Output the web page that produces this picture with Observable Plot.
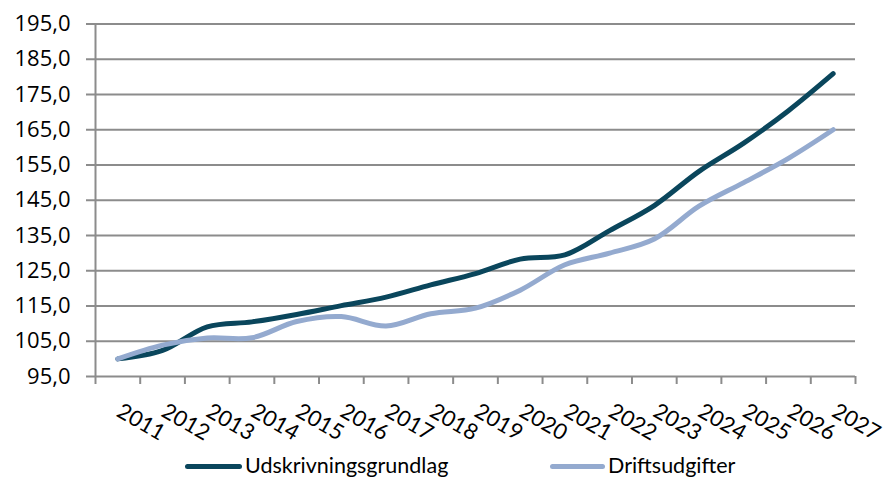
<!DOCTYPE html>
<html>
<head>
<meta charset="utf-8">
<script src="https://cdn.jsdelivr.net/npm/d3@7"></script>
<script src="https://cdn.jsdelivr.net/npm/@observablehq/plot@0.6"></script>
<style>
  html, body { margin: 0; padding: 0; background: #fff; }
  #wrap { position: relative; width: 885px; height: 480px; font-family: Lato, "Open Sans", sans-serif; }
  #legend { position: absolute; left: 0; top: 450px; width: 885px; height: 30px; }
  .sw { position: absolute; top: 14px; height: 5px; border-radius: 3px; }
  .lt { position: absolute; top: 2px; font-size: 21.5px; line-height: 26px; color: #000; white-space: nowrap; }
</style>
</head>
<body>
<div id="wrap">
  <div id="chart"></div>
  <div id="legend"></div>
</div>
<script>
const years = [2011, 2012, 2013, 2014, 2015, 2016, 2017, 2018, 2019, 2020, 2021, 2022, 2023, 2024, 2025, 2026, 2027];
const udskrivningsgrundlag = [100.0, 102.4, 109.1, 110.5, 112.6, 115.1, 117.5, 121.0, 124.2, 128.3, 129.5, 136.4, 143.5, 153.2, 161.2, 170.4, 180.9];
const driftsudgifter = [100.0, 103.9, 105.9, 106.0, 110.6, 112.0, 109.3, 112.8, 114.4, 119.5, 126.7, 130.0, 134.0, 143.3, 150.0, 156.9, 165.0];
const yTicks = [95, 105, 115, 125, 135, 145, 155, 165, 175, 185, 195];
const seriesNames = ["Udskrivningsgrundlag", "Driftsudgifter"];
const seriesColors = ["#0A465C", "#94AACF"];

const bounds = d3.range(years.length + 1).map(i => years[0] - 0.5 + i);
const rows = [];
years.forEach((y, i) => {
  rows.push({year: y, value: udskrivningsgrundlag[i], series: seriesNames[0]});
  rows.push({year: y, value: driftsudgifter[i], series: seriesNames[1]});
});

const gridColor = "#8C8C8C";
const fmt = d => d.toFixed(1).replace(".", ",");

const chart = Plot.plot({
  width: 885,
  height: 450,
  marginLeft: 95,
  marginRight: 30,
  marginTop: 23.5,
  marginBottom: 74,
  style: {fontFamily: "Lato, 'Open Sans', sans-serif", fontSize: "22px", color: "#000", background: "#fff", overflow: "visible"},
  x: {type: "linear", domain: [bounds[0], bounds[bounds.length - 1]], axis: null},
  y: {domain: [95, 195], axis: null},
  color: {domain: seriesNames, range: seriesColors},
  marks: [
    Plot.ruleY(yTicks, {stroke: gridColor, strokeWidth: 2, insetLeft: -9}),
    Plot.ruleX([bounds[0]], {stroke: gridColor, strokeWidth: 2, y1: 95, y2: 195}),
    Plot.axisX(bounds, {tickSize: 8, tickFormat: () => "", label: null, stroke: gridColor, strokeWidth: 2, strokeOpacity: 1}),
    Plot.axisY(yTicks, {tickSize: 0, tickPadding: 25, tickFormat: fmt, label: null, fill: "#000", fontSize: 22, fontFamily: "'Open Sans', Lato, sans-serif"}),
    Plot.text(years, {x: d => d, y: 95, text: d => String(d), rotate: 30, textAnchor: "start", dx: 1, dy: 33, fontSize: 22, fill: "#000"}),
    Plot.line(rows, {x: "year", y: "value", z: "series", stroke: "series", strokeWidth: 5, curve: "catmull-rom", strokeLinecap: "round", strokeLinejoin: "round"})
  ]
});
document.getElementById("chart").appendChild(chart);

const legend = document.getElementById("legend");
const legendPos = [{sw: 185, w: 57, t: 245}, {sw: 550, w: 55, t: 608}];
seriesNames.forEach((name, i) => {
  const s = document.createElement("div");
  s.className = "sw";
  s.style.left = legendPos[i].sw + "px";
  s.style.width = legendPos[i].w + "px";
  s.style.background = seriesColors[i];
  legend.appendChild(s);
  const t = document.createElement("div");
  t.className = "lt";
  t.style.left = legendPos[i].t + "px";
  t.textContent = name;
  legend.appendChild(t);
});
</script>
</body>
</html>
